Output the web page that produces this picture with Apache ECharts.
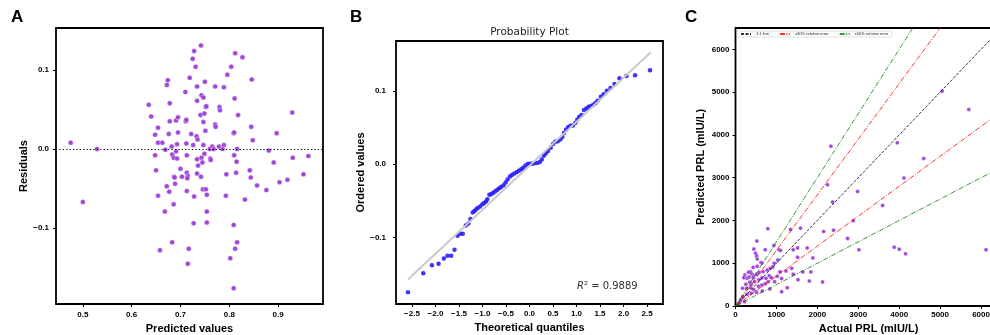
<!DOCTYPE html>
<html>
<head>
<meta charset="utf-8">
<script src="https://cdn.jsdelivr.net/npm/echarts@6/dist/echarts.min.js"></script>
<style>
  html, body { margin: 0; padding: 0; background: #fff; }
  #chart { width: 990px; height: 335px; }
</style>
</head>
<body>
<div id="chart"></div>
<script>
// A: residuals vs predicted values
const residualPoints = [
  [0.475, 0.008], [0.529, 0.000], [0.500, -0.067], [0.635, 0.056], [0.640, 0.041], [0.654, 0.027],
  [0.648, 0.018], [0.654, 0.008], [0.663, 0.008], [0.648, -0.008], [0.650, -0.027], [0.654, -0.059],
  [0.658, -0.128], [0.668, -0.079], [0.672, -0.047], [0.677, -0.054], [0.672, 0.081], [0.674, 0.087],
  [0.678, 0.058], [0.678, 0.035], [0.676, 0.019], [0.669, -0.001], [0.682, 0.003], [0.683, -0.007],
  [0.686, -0.011], [0.687, -0.035], [0.688, -0.036], [0.689, -0.044], [0.686, -0.070], [0.683, -0.118],
  [0.691, 0.036], [0.695, 0.040], [0.695, 0.021], [0.693, 0.006], [0.691, -0.003], [0.693, -0.012],
  [0.700, -0.025], [0.703, -0.035], [0.710, 0.072], [0.711, 0.035], [0.712, 0.037], [0.712, 0.007],
  [0.713, -0.008], [0.713, -0.030], [0.715, -0.034], [0.714, -0.037], [0.713, -0.053], [0.717, -0.126],
  [0.715, -0.145], [0.719, 0.090], [0.722, 0.019], [0.726, 0.005], [0.725, 0.114], [0.728, 0.124],
  [0.731, 0.104], [0.734, 0.079], [0.734, 0.061], [0.733, 0.016], [0.735, 0.012], [0.734, -0.013],
  [0.736, -0.021], [0.734, -0.031], [0.728, -0.060], [0.727, -0.094], [0.742, 0.131], [0.743, 0.068],
  [0.741, 0.043], [0.747, 0.065], [0.749, 0.045], [0.750, 0.085], [0.747, 0.034], [0.752, 0.053],
  [0.751, 0.023], [0.747, 0.005], [0.743, -0.011], [0.745, -0.017], [0.742, -0.035], [0.749, -0.006],
  [0.746, -0.051], [0.752, -0.051], [0.754, -0.058], [0.754, -0.079], [0.754, -0.093], [0.753, 0.054],
  [0.760, 0.000], [0.761, -0.012], [0.762, -0.014], [0.765, 0.003], [0.771, 0.079], [0.771, 0.031],
  [0.772, 0.028], [0.768, 0.000], [0.780, 0.053], [0.781, 0.049], [0.779, 0.003], [0.786, 0.000],
  [0.789, 0.005], [0.789, 0.078], [0.796, 0.094], [0.804, 0.104], [0.794, -0.032], [0.793, -0.059],
  [0.802, -0.138], [0.812, 0.121], [0.827, 0.116], [0.811, 0.064], [0.818, 0.043], [0.809, 0.020],
  [0.810, 0.021], [0.816, 0.000], [0.810, -0.008], [0.815, -0.016], [0.814, -0.030], [0.809, -0.096],
  [0.816, -0.118], [0.812, -0.126], [0.809, -0.176], [0.832, -0.064], [0.846, 0.088], [0.845, 0.028],
  [0.848, 0.011], [0.842, -0.027], [0.844, -0.036], [0.857, -0.046], [0.876, -0.052], [0.881, -0.002],
  [0.891, -0.017], [0.897, 0.020], [0.903, -0.042], [0.919, -0.039], [0.929, 0.046], [0.930, -0.011],
  [0.952, -0.032], [0.962, -0.009]
];
const residualXTicks = [0.5, 0.6, 0.7, 0.8, 0.9];
const residualYTicks = [-0.1, 0.0, 0.1];

// B: probability plot
const qqPoints = [
  [-2.585, -0.175], [-2.26, -0.149], [-2.076, -0.138], [-1.935, -0.136], [-1.822, -0.129], [-1.744, -0.125],
  [-1.667, -0.125], [-1.596, -0.117], [-1.532, -0.098], [-1.476, -0.095], [-1.42, -0.095], [-1.356, -0.084],
  [-1.299, -0.081], [-1.257, -0.075], [-1.208, -0.066], [-1.172, -0.064], [-1.137, -0.062], [-1.102, -0.060],
  [-1.052, -0.058], [-1.003, -0.055], [-0.967, -0.053], [-0.925, -0.051], [-0.897, -0.048], [-0.854, -0.042],
  [-0.812, -0.041], [-0.77, -0.039], [-0.727, -0.037], [-0.685, -0.035], [-0.643, -0.033], [-0.6, -0.031],
  [-0.551, -0.029], [-0.508, -0.025], [-0.466, -0.021], [-0.417, -0.017], [-0.374, -0.015], [-0.325, -0.013],
  [-0.275, -0.011], [-0.226, -0.009], [-0.177, -0.007], [-0.134, -0.005], [-0.085, -0.002], [-0.035, 0.000],
  [0.007, 0.0005], [0.056, 0.0005], [0.106, 0.001], [0.162, 0.0014], [0.219, 0.0027], [0.261, 0.0064],
  [0.304, 0.0114], [0.346, 0.0146], [0.395, 0.0178], [0.452, 0.0223], [0.501, 0.0273], [0.551, 0.0305],
  [0.6, 0.031], [0.657, 0.0337], [0.699, 0.0369], [0.734, 0.0424], [0.777, 0.0469], [0.819, 0.0501],
  [0.869, 0.0524], [0.925, 0.0528], [0.975, 0.0565], [1.017, 0.061], [1.059, 0.0647], [1.109, 0.0669],
  [1.158, 0.0738], [1.208, 0.076], [1.257, 0.0783], [1.307, 0.0792], [1.356, 0.0811], [1.405, 0.0833],
  [1.448, 0.0865], [1.518, 0.092], [1.575, 0.0952], [1.645, 0.1002], [1.723, 0.1038], [1.808, 0.1093],
  [1.914, 0.117], [2.062, 0.1202], [2.246, 0.1211], [2.564, 0.128]
];
const qqFitLine = [[-2.585, -0.1576], [2.58, 0.1526]];
const qqXTicks = [-2.5, -2.0, -1.5, -1.0, -0.5, 0.0, 0.5, 1.0, 1.5, 2.0, 2.5];
const qqYTicks = [-0.1, 0.0, 0.1];
const qqR2 = '0.9889';

// C: predicted vs actual PRL (mIU/L)
const prlPoints = [
  [522, 1518], [449, 1332], [490, 1231], [515, 1168], [530, 1098], [726, 1315], [620, 1020], [645, 1004],
  [530, 927], [431, 903], [367, 802], [400, 748], [228, 724], [203, 662], [284, 646], [333, 677],
  [449, 708], [515, 740], [578, 787], [676, 802], [775, 841], [848, 880], [907, 911], [824, 708],
  [873, 662], [743, 646], [645, 662], [571, 615], [466, 568], [350, 553], [252, 506], [171, 413],
  [270, 413], [367, 428], [449, 381], [563, 459], [645, 490], [726, 522], [799, 568], [956, 568],
  [1020, 693], [1086, 802], [840, 397], [652, 350], [515, 319], [383, 296], [284, 272], [186, 218],
  [122, 140], [221, 101], [89, 62], [1127, 335], [1265, 428], [1412, 740], [1527, 615], [1804, 584],
  [1372, 880], [1233, 818], [431, 662], [318, 787], [383, 490],
  [790, 1805], [1345, 1789], [1589, 1820], [2152, 1742], [2396, 1773], [2738, 1578], [3015, 1313],
  [3879, 1375], [4002, 1328], [4156, 1219], [6121, 1313], [2877, 1992], [2983, 2680], [2249, 2836],
  [2372, 2430], [3594, 2352], [4116, 2992], [937, 1414], [1060, 1313], [1100, 1297], [1410, 1313],
  [1516, 1359], [1752, 1359], [1516, 1141], [1891, 1125], [1035, 1078], [945, 1000], [1646, 797],
  [1842, 797], [2127, 563], [1125, 641],
  [2330, 3735], [3953, 3816], [5049, 5023], [5701, 4595], [4598, 3450]
];
const prlTicks = [0, 1000, 2000, 3000, 4000, 5000, 6000];
const prlMax = 6500;
const oneToOne = [1];
const err30 = [1.3, 0.7];
const err50 = [1.5, 0.5];

const PURPLE = '#9b3fd6';
const TICK_FONT = { fontFamily: 'Liberation Sans', fontWeight: 'bold', fontSize: 8, color: '#000' };
const NAME_FONT = { fontFamily: 'Liberation Sans', fontWeight: 'bold', fontSize: 11, color: '#000' };
const DASH_DOT = [5, 1.5, 1, 1.5];

const fmt1 = v => v.toFixed(1).replace('-', '\u2212');
const fmt0 = v => String(Math.round(v));

function axis(gridIndex, min, max, ticks, formatter, name, nameGap, margin) {
  return {
    type: 'value', gridIndex, min, max,
    name, nameLocation: 'middle', nameGap, nameTextStyle: NAME_FONT,
    axisLine: { show: false, onZero: false },
    splitLine: { show: false },
    axisTick: { show: true, customValues: ticks, length: 3, lineStyle: { color: '#000', width: 1 } },
    axisLabel: Object.assign({ customValues: ticks, formatter, margin }, TICK_FONT)
  };
}

function refLine(name, slope, color, dash) {
  return {
    type: 'line', name, xAxisIndex: 2, yAxisIndex: 2,
    data: [[0, 0], [prlMax, prlMax * slope]],
    symbol: 'none', clip: true, silent: true,
    lineStyle: { color, width: 1, type: dash }
  };
}

const gridBase = { show: true, borderColor: '#000', borderWidth: 1.8, backgroundColor: '#fff', outerBoundsMode: 'none', containLabel: false };

const chart = echarts.init(document.getElementById('chart'), null, { renderer: 'canvas' });
chart.setOption({
  animation: false,
  grid: [
    Object.assign({ left: 56, top: 28, width: 267, height: 276 }, gridBase),
    Object.assign({ left: 396, top: 41, width: 267, height: 263 }, gridBase),
    Object.assign({ left: 735.5, top: 28, width: 266, height: 278 }, gridBase)
  ],
  xAxis: [
    axis(0, 0.445, 0.992, residualXTicks, fmt1, 'Predicted values', 16, 7),
    axis(1, -2.84, 2.84, qqXTicks, fmt1, 'Theoretical quantiles', 16, 6),
    axis(2, 0, prlMax, prlTicks, fmt0, 'Actual PRL (mIU/L)', 16, 5)
  ],
  yAxis: [
    axis(0, -0.196, 0.153, residualYTicks, fmt1, 'Residuals', 20, 7),
    axis(1, -0.191, 0.168, qqYTicks, fmt1, 'Ordered values', 26, 10),
    axis(2, 0, prlMax, prlTicks, fmt0, 'Predicted PRL (mIU/L)', 29, 6)
  ],
  legend: {
    data: ['1:1 line', '\u00b130% relative error', '\u00b150% relative error'],
    left: 737, top: 31, orient: 'horizontal',
    itemWidth: 10, itemHeight: 4, itemGap: 10, padding: [1, 3],
    itemStyle: { opacity: 0 },
    backgroundColor: '#fff', borderColor: '#ccc', borderWidth: 0.6, borderRadius: 1,
    textStyle: { fontSize: 4, color: '#222', fontFamily: 'Liberation Sans' }
  },
  series: [
    {
      type: 'scatter', xAxisIndex: 0, yAxisIndex: 0, data: residualPoints,
      symbolSize: 5,
      itemStyle: { color: PURPLE, borderColor: '#fff', borderWidth: 0.4, opacity: 0.95 },
      markLine: {
        silent: true, symbol: ['none', 'none'], label: { show: false },
        lineStyle: { color: '#000', width: 1.2, type: [1.2, 2.2] },
        data: [{ yAxis: 0 }]
      }
    },
    {
      type: 'line', xAxisIndex: 1, yAxisIndex: 1, data: qqFitLine,
      symbol: 'none', silent: true,
      lineStyle: { color: '#c8c8c8', width: 1.8 }
    },
    {
      type: 'scatter', xAxisIndex: 1, yAxisIndex: 1, data: qqPoints,
      symbolSize: 4.5,
      itemStyle: { color: '#2a1ff5', opacity: 0.9 }
    },
    refLine('1:1 line', oneToOne[0], 'rgba(0,0,0,0.8)', [3, 1.5]),
    refLine('\u00b130% relative error', err30[0], 'rgba(255,0,0,0.8)', DASH_DOT),
    refLine('\u00b130% relative error', err30[1], 'rgba(255,0,0,0.8)', DASH_DOT),
    refLine('\u00b150% relative error', err50[0], 'rgba(0,128,0,0.8)', DASH_DOT),
    refLine('\u00b150% relative error', err50[1], 'rgba(0,128,0,0.8)', DASH_DOT),
    {
      type: 'scatter', xAxisIndex: 2, yAxisIndex: 2, data: prlPoints,
      symbolSize: 4,
      itemStyle: { color: PURPLE, borderColor: '#fff', borderWidth: 0.3, opacity: 0.95 }
    }
  ],
  graphic: [
    { type: 'text', left: 11, top: 9, style: { text: 'A', fontFamily: 'Liberation Sans', fontWeight: 'bold', fontSize: 17, fill: '#000' } },
    { type: 'text', left: 350, top: 9, style: { text: 'B', fontFamily: 'Liberation Sans', fontWeight: 'bold', fontSize: 17, fill: '#000' } },
    { type: 'text', left: 685, top: 9, style: { text: 'C', fontFamily: 'Liberation Sans', fontWeight: 'bold', fontSize: 17, fill: '#000' } },
    { type: 'text', x: 529.5, y: 32, style: { text: 'Probability Plot', fontFamily: 'DejaVu Sans', fontSize: 10.5, fill: '#222', align: 'center', verticalAlign: 'middle' } },
    {
      type: 'text', x: 577, y: 286,
      style: {
        text: '{i|R}{n|\u00b2 = ' + qqR2 + '}',
        verticalAlign: 'middle',
        rich: {
          i: { fontFamily: 'DejaVu Sans', fontStyle: 'italic', fontSize: 10, fill: '#333' },
          n: { fontFamily: 'DejaVu Sans', fontSize: 10, fill: '#333' }
        }
      }
    }
  ]
});
</script>
</body>
</html>
